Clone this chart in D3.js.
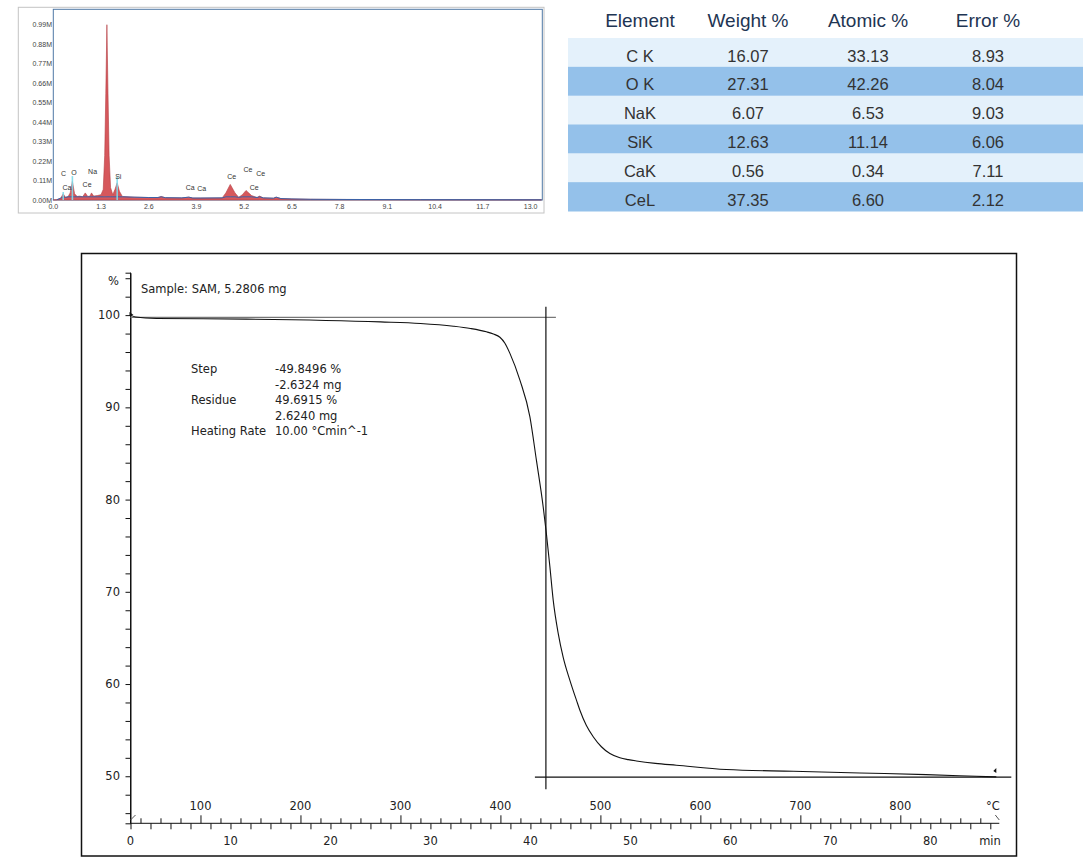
<!DOCTYPE html>
<html><head><meta charset="utf-8">
<script src="https://cdn.jsdelivr.net/npm/d3@7"></script>
<style>
html,body{margin:0;padding:0;background:#fff;}
svg{display:block;}
</style></head>
<body>
<svg id="c" width="1086" height="861"></svg>
<script>
// ---------- EDS spectrum data ----------
const edsEnergy = [0.00,0.10,0.20,0.27,0.33,0.40,0.46,0.52,0.58,0.65,0.72,0.80,0.87,0.94,1.00,1.04,1.10,1.20,1.30,1.36,1.40,1.43,1.46,1.49,1.52,1.56,1.62,1.68,1.74,1.80,1.88,2.20,2.60,2.85,2.94,3.05,3.50,3.69,3.80,4.00,4.60,4.70,4.82,4.95,5.05,5.15,5.25,5.40,5.55,5.62,5.72,6.00,6.07,6.20,6.50,7.00,8.00,10.0,13.3];
const edsCounts = [0.000,0.002,0.010,0.035,0.015,0.018,0.040,0.105,0.035,0.020,0.022,0.018,0.040,0.020,0.022,0.040,0.022,0.025,0.030,0.060,0.250,0.600,0.990,0.600,0.250,0.070,0.030,0.060,0.097,0.050,0.020,0.016,0.014,0.014,0.020,0.013,0.012,0.016,0.011,0.011,0.012,0.040,0.088,0.040,0.015,0.030,0.054,0.025,0.014,0.022,0.012,0.010,0.016,0.008,0.006,0.004,0.003,0.002,0.001];
const edsYTicks = [0,0.11,0.22,0.33,0.44,0.55,0.66,0.77,0.88,0.99];
const edsXTicks = [0.0,1.3,2.6,3.9,5.2,6.5,7.8,9.1,10.4,11.7,13.0];
const edsMarkerE = [0.27,0.52,1.74];
const edsMarkerH = [0.045,0.135,0.13];
const edsLabelText = ["C","O","Na","Ca","Ce","Si","Ca","Ca","Ce","Ce","Ce","Ce"];
const edsLabelE = [0.28,0.56,1.07,0.37,0.92,1.77,3.73,4.04,4.86,5.30,5.65,5.47];
const edsLabelY = [0.150,0.157,0.159,0.072,0.088,0.131,0.072,0.067,0.133,0.171,0.150,0.069];

// ---------- Table data ----------
const tableColumns = ["Element","Weight %","Atomic %","Error %"];
const tableElements = ["C K","O K","NaK","SiK","CaK","CeL"];
const tableWeight = ["16.07","27.31","6.07","12.63","0.56","37.35"];
const tableAtomic = ["33.13","42.26","6.53","11.14","0.34","6.60"];
const tableError = ["8.93","8.04","9.03","6.06","7.11","2.12"];

// ---------- TGA data ----------
const tgaTime = [0,0.5,2.6,11.6,25.0,29.0,32.3,34.0,35.6,36.3,36.95,37.45,37.95,38.95,39.95,40.6,41.28,41.6,41.95,42.28,42.78,43.28,43.95,44.62,44.95,45.6,46.3,47.1,47.95,48.95,49.8,50.6,52.5,54.6,59.6,66.3,72.95,79.6,84.6,86.6];
const tgaMass = [100.0,99.8,99.64,99.57,99.27,99.1,98.8,98.55,98.19,97.95,97.6,96.95,95.85,92.95,88.97,84.27,79.2,76.3,72.7,69.1,65.5,62.9,60.4,58.2,57.16,55.5,54.26,53.2,52.46,52.0,51.8,51.66,51.4,51.2,50.73,50.54,50.36,50.18,50.0,49.93];
const tgaYTicks = [50,60,70,80,90,100];
const tgaTimeTicks = [0,10,20,30,40,50,60,70,80];
const tgaTempTicks = [100,200,300,400,500,600,700,800];
const annotLabels = ["Step","","Residue","","Heating Rate"];
const annotValues = ["-49.8496 %","-2.6324 mg","49.6915 %","2.6240 mg","10.00 °Cmin^-1"];
const stepTop = 99.75, stepBottom = 49.9, stepTime = 41.55;

const svg = d3.select("#c");

// ================= EDS =================
const ex = d3.scaleLinear().domain([0,13.32]).range([53.3,542.3]);
const ey = d3.scaleLinear().domain([0,1.077]).range([200,9.3]);
const eds = svg.append("g");
eds.append("rect").attr("x",18.3).attr("y",7.3).attr("width",525.7).attr("height",205.7)
  .attr("fill","#fff").attr("stroke","#c4c4c4").attr("stroke-width",1);
eds.append("rect").attr("x",ex.range()[0]).attr("y",ey.range()[1])
  .attr("width",ex.range()[1]-ex.range()[0]).attr("height",ey.range()[0]-ey.range()[1])
  .attr("fill","#fff").attr("stroke","#4f78a6").attr("stroke-width",1);
const edsPts = edsEnergy.map((e,i)=>[e,edsCounts[i]]);
eds.append("path").datum(edsPts)
  .attr("d",d3.area().x(d=>ex(d[0])).y0(ey(0)).y1(d=>ey(d[1])))
  .attr("fill","#d6585c").attr("stroke","#b43c42").attr("stroke-width",0.6);
eds.append("path").datum(edsPts.filter(d=>d[0]>=0.1))
  .attr("d",d3.line().x(d=>ex(d[0])).y(d=>ey(Math.min(d[1],0.018))))
  .attr("fill","none").attr("stroke","#3a62a8").attr("stroke-width",1);
edsMarkerE.forEach((e,i)=>{
  eds.append("line").attr("x1",ex(e)).attr("x2",ex(e)).attr("y1",ey(0)).attr("y2",ey(edsMarkerH[i]))
    .attr("stroke","#7fdcec").attr("stroke-width",1.6).attr("opacity",0.9);
});
eds.selectAll("text.yl").data(edsYTicks).enter().append("text")
  .attr("x",52).attr("y",d=>ey(d)+2.5).attr("text-anchor","end")
  .attr("font-family","Liberation Sans, Arial, sans-serif").attr("font-size",7).attr("fill","#444")
  .text(d=>d.toFixed(2)+"M");
eds.selectAll("text.xl").data(edsXTicks).enter().append("text")
  .attr("x",d=>ex(d)).attr("y",209).attr("text-anchor","middle")
  .attr("font-family","Liberation Sans, Arial, sans-serif").attr("font-size",7).attr("fill","#444")
  .text(d=>d.toFixed(1));
eds.selectAll("text.pl").data(edsLabelText).enter().append("text")
  .attr("x",(d,i)=>ex(edsLabelE[i])).attr("y",(d,i)=>ey(edsLabelY[i])+2.5).attr("text-anchor","middle")
  .attr("font-family","Liberation Sans, Arial, sans-serif").attr("font-size",7).attr("fill","#333")
  .text(d=>d);

// ================= TABLE =================
const tRow = d3.scaleBand().domain(tableElements).range([38,211]);
const tCol = d3.scaleOrdinal(tableColumns,[640,748,868,988]);
const tab = svg.append("g");
tab.selectAll("rect").data(tableElements).enter().append("rect")
  .attr("x",568).attr("width",515).attr("y",d=>tRow(d)).attr("height",tRow.bandwidth()+0.5)
  .attr("fill",(d,i)=>i%2===0?"#e4f1fb":"#94c1ea");
tab.selectAll("text.h").data(tableColumns).enter().append("text")
  .attr("x",d=>tCol(d)).attr("y",27).attr("text-anchor","middle")
  .attr("font-family","Liberation Sans, Arial, sans-serif").attr("font-size",19).attr("fill","#1e3553")
  .text(d=>d);
const rows = tableElements.map((e,i)=>[e,tableWeight[i],tableAtomic[i],tableError[i]]);
rows.forEach((r,i)=>{
  r.forEach((v,j)=>{
    tab.append("text").attr("x",tCol(tableColumns[j])).attr("y",tRow(tableElements[i])+23.5)
      .attr("text-anchor","middle").attr("font-family","Liberation Sans, Arial, sans-serif")
      .attr("font-size",16.5).attr("fill","#333").text(v);
  });
});

// ================= TGA =================
const tx = d3.scaleLinear().domain([0,86.9]).range([130.5,999.3]);
const tT = d3.scaleLinear().domain([30,899]).range([130.5,999.3]);
const ty = d3.scaleLinear().domain([44.9,104.6]).range([823.3,272.7]);
const tg = svg.append("g");
const F = "DejaVu Sans, Verdana, sans-serif";
tg.append("rect").attr("x",81.5).attr("y",253.5).attr("width",935).attr("height",602.5)
  .attr("fill","none").attr("stroke","#111").attr("stroke-width",1.5);
const yAx = d3.axisLeft(ty).tickValues(d3.range(46,105,2)).tickSize(5).tickFormat("");
tg.append("g").attr("transform","translate(130.5,0)").call(yAx)
  .call(g=>{g.select(".domain").attr("stroke","#111");g.selectAll(".tick line").attr("stroke","#111");});
tg.append("line").attr("x1",130.5).attr("x2",130.5).attr("y1",ty.range()[1]).attr("y2",ty.range()[0]).attr("stroke","#111");
tg.selectAll("text.ty").data(tgaYTicks).enter().append("text")
  .attr("x",120).attr("y",d=>ty(d)+4).attr("text-anchor","end")
  .attr("font-family",F).attr("font-size",11.5).attr("fill","#222").text(d=>d);
tg.append("text").attr("x",108).attr("y",284.5).attr("font-family",F).attr("font-size",11.5).attr("fill","#222").text("%");
tg.append("line").attr("x1",130.5).attr("x2",999.3).attr("y1",823.3).attr("y2",823.3).attr("stroke","#111");
const tBot = d3.axisBottom(tx).tickValues(d3.range(0,87,2)).tickSize(6).tickFormat("");
tg.append("g").attr("transform","translate(0,823.3)").call(tBot)
  .call(g=>{g.select(".domain").remove();g.selectAll(".tick line").attr("stroke","#111");});
const tTop = d3.axisTop(tT).tickValues(d3.range(40,900,20)).tickSize(5).tickFormat("");
tg.append("g").attr("transform","translate(0,823.3)").call(tTop)
  .call(g=>{g.select(".domain").remove();g.selectAll(".tick line").attr("stroke","#111")
    .attr("y2",d=>d%100===0?-8:-5);});
tg.selectAll("text.tt").data(tgaTimeTicks).enter().append("text")
  .attr("x",d=>tx(d)).attr("y",845).attr("text-anchor","middle")
  .attr("font-family",F).attr("font-size",11.5).attr("fill","#222").text(d=>d);
tg.selectAll("text.tc").data(tgaTempTicks).enter().append("text")
  .attr("x",d=>tT(d)).attr("y",810).attr("text-anchor","middle")
  .attr("font-family",F).attr("font-size",11.5).attr("fill","#222").text(d=>d);
tg.append("text").attr("x",993).attr("y",810).attr("text-anchor","middle").attr("font-family",F).attr("font-size",11.5).attr("fill","#222").text("°C");
tg.append("text").attr("x",990).attr("y",845).attr("text-anchor","middle").attr("font-family",F).attr("font-size",11.5).attr("fill","#222").text("min");
tg.append("line").attr("x1",tx(86.9)-4).attr("y1",815).attr("x2",tx(86.9)).attr("y2",820).attr("stroke","#555");
tg.append("line").attr("x1",tx(0)).attr("y1",820).attr("x2",tx(0)+5).attr("y2",815).attr("stroke","#555");
tg.append("line").attr("x1",tx(0)).attr("x2",tx(42.55)).attr("y1",ty(stepTop)).attr("y2",ty(stepTop))
  .attr("stroke","#777").attr("stroke-width",1.2);
tg.append("line").attr("x1",tx(stepTime)).attr("x2",tx(stepTime)).attr("y1",ty(100.9)).attr("y2",ty(48.6))
  .attr("stroke","#111").attr("stroke-width",1.2);
tg.append("line").attr("x1",tx(40.45)).attr("x2",tx(88.1)).attr("y1",ty(stepBottom)).attr("y2",ty(stepBottom))
  .attr("stroke","#111").attr("stroke-width",1.2);
tg.append("path").datum(tgaTime.map((t,i)=>[t,tgaMass[i]]))
  .attr("d",d3.line().curve(d3.curveMonotoneX).x(d=>tx(d[0])).y(d=>ty(d[1])))
  .attr("fill","none").attr("stroke","#111").attr("stroke-width",1.1);
const sx = tx(tgaTime[0]), sy = ty(tgaMass[0]);
tg.append("path").attr("d",`M${sx-1},${sy-3}L${sx+3},${sy}L${sx-1},${sy+1}Z`).attr("fill","#111");
const lx = tx(tgaTime[tgaTime.length-1]), ly = ty(tgaMass[tgaMass.length-1]);
tg.append("path").attr("d",`M${lx},${ly-9}L${lx-3},${ly-6}L${lx},${ly-4}Z`).attr("fill","#111");
tg.append("text").attr("x",141).attr("y",292.5).attr("font-family",F).attr("font-size",11.5).attr("fill","#222")
  .text("Sample: SAM, 5.2806 mg");
annotLabels.forEach((l,i)=>{
  tg.append("text").attr("x",191).attr("y",373+i*15.5).attr("font-family",F).attr("font-size",11.5).attr("fill","#222").text(l);
  tg.append("text").attr("x",275).attr("y",373+i*15.5).attr("font-family",F).attr("font-size",11.5).attr("fill","#222").text(annotValues[i]);
});
</script>
</body></html>
